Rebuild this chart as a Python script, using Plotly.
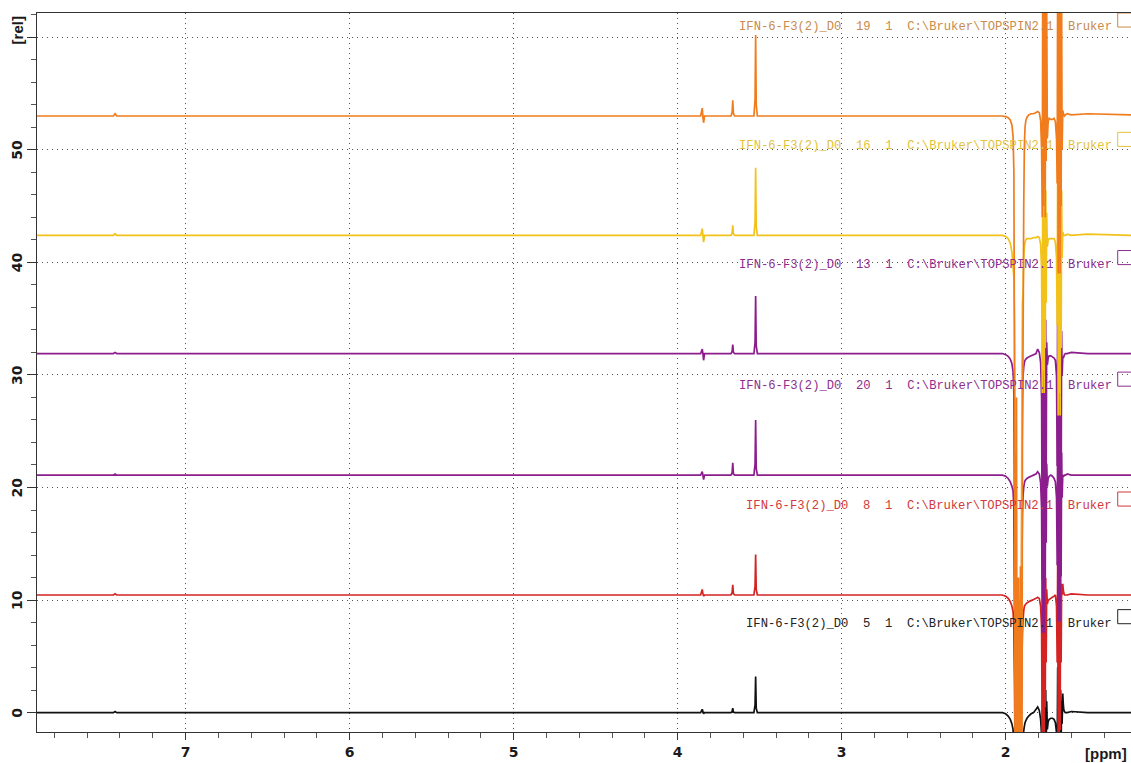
import plotly.graph_objects as go

# ---- chemical shift key points (ppm) ----
# baseline region with the three small resonances
L_PPM = [7.906, 7.44, 7.43, 7.42, 3.86, 3.850, 3.846, 3.842, 3.836,
         3.675, 3.668, 3.664, 3.660, 3.652, 3.535, 3.528, 3.5245, 3.521, 3.514]
# high-field region with the large solvent signals
R_PPM = [2.06, 2.02, 2.00, 1.985, 1.972, 1.962, 1.955, 1.950, 1.946,
         1.943, 1.940, 1.937, 1.934, 1.931, 1.928, 1.925, 1.922, 1.919, 1.916,
         1.913, 1.910, 1.907, 1.904, 1.901, 1.898,
         1.894, 1.890, 1.886, 1.882, 1.877, 1.870, 1.860, 1.845, 1.830, 1.815,
         1.805, 1.795, 1.787, 1.781,
         1.777, 1.774, 1.771, 1.768, 1.765, 1.762, 1.759, 1.756, 1.753, 1.750,
         1.746, 1.741, 1.735, 1.725, 1.715, 1.705, 1.697, 1.690,
         1.686, 1.683, 1.680, 1.677, 1.674, 1.671, 1.668, 1.665, 1.662, 1.659, 1.656,
         1.652, 1.649, 1.646, 1.642, 1.636, 1.625, 1.600, 1.500, 1.236]

# ---- experiment labels ----
EXPNO = ["5", "8", "20", "13", "16", "19"]
LABELS = ["IFN-6-F3(2)_D0  %s  1  C:\\Bruker\\TOPSPIN2.1  Bruker" % n for n in EXPNO]

# vertical stacking offsets of each spectrum [rel]
BASELINES = [0.0, 10.45, 21.1, 31.9, 42.4, 53.0]

# axis ticks
Y_TICKS = [0, 10, 20, 30, 40, 50, 60]
Y_TICK_LABELS = ["0", "10", "20", "30", "40", "50"]

# ---- intensities relative to each baseline ----
BLACK_L = [0, 0, 0.1, 0, 0, 0.3, 0.1, -0.1, 0, 0, 0.1, 0.4, 0.05, 0, 0, 0.7, 3.2, 0.4, 0]
BLACK_R = [0, 0, -0.1, -0.3, -0.6, -1.0, -1.5, -4, -8,
           -8, -8, -8, -8, -8, -8, -8, -8, -8, -8, -8, -8, -8, -8, -6, -4,
           -2.5, -1.6, -1.2, -0.9, -0.7, -0.5, -0.3, -0.1, 0, 0.3, 0.5, 0.2, -0.6, -2,
           -5, 5, -6, 4, -6, 3, -5, 2, -3, 1,
           -1.5, -0.8, -0.6, -0.5, -0.5, -0.6, -0.9, -1.8,
           -4, 4, -5, 3, -5, 3, -4, 2, -3, 1, -1,
           1.7, 0.8, 0.3, 0.1, 0, 0, 0.1, 0, 0]

RED_L = [0, 0, 0.1, 0, 0, 0.5, 0.1, -0.1, 0, 0, 0.2, 0.9, 0.1, 0, 0, 0.8, 3.6, 0.5, 0]
RED_R = [0, 0, -0.1, -0.3, -0.6, -1.0, -1.5, -3, -8,
         -15, -16, -15, -17, -16, -15, -17, -16, -15, -17, -16, -15, -14, -10, -6, -3.5,
         -2.2, -1.4, -1.0, -0.9, -0.8, -0.7, -0.6, -0.5, -0.4, -0.3, -0.2, -0.3, -1, -3,
         -14, 3, -12, 3, -14, 2, -10, 1.5, -6, 0.5,
         -0.8, -0.5, -0.4, -0.3, -0.2, -0.1, 0, -1,
         -6, 3, -14, 2, -13, 3, -12, 2, -6, 1, 0,
         1.0, 0.5, 0.2, 0, 0, 0, 0.1, 0, 0]

PURPLE20_L = [0, 0, 0.1, 0, 0, 0.3, 0, -0.4, 0, 0, 0.2, 1.1, 0.1, 0, 0, 1.0, 4.9, 0.6, 0]
PURPLE20_R = [0, 0, -0.1, -0.3, -0.6, -1.0, -1.4, -3, -12,
              -26, -28, -27, -29, -28, -27, -29, -28, -27, -29, -28, -27, -26, -18, -8, -3.5,
              -1.8, -1.1, -0.7, -0.5, -0.4, -0.3, -0.2, -0.1, 0, 0.1, 0.3, 0.1, -0.7, -3,
              -14, 4, -12, 4, -14, 3, -10, 2, -6, 1,
              -1, -0.3, -0.1, 0, -0.1, -0.3, -0.6, -2,
              -8, 5, -13, 5, -12, 4, -13, 3, -9, 2, -2,
              0, -0.1, -0.1, 0, 0, 0.1, 0, 0, 0]

PURPLE13_L = [0, 0, 0.1, 0, 0, 0.4, 0, -0.6, 0, 0, 0.2, 0.8, 0.1, 0, 0, 1.0, 5.1, 0.7, 0]
PURPLE13_R = [0, 0, -0.1, -0.25, -0.5, -0.9, -1.6, -3.5, -15,
              -38, -40, -39, -41, -40, -39, -41, -40, -39, -41, -40, -39, -38, -25, -10, -4,
              -2, -1.2, -0.8, -0.6, -0.5, -0.4, -0.3, -0.2, -0.1, 0, 0.4, 0.1, -0.8, -4,
              -20, 5, -18, 5, -20, 4, -16, 3, -10, 1,
              -1, -0.4, -0.2, -0.2, -0.3, -0.4, -0.6, -2,
              -10, 6, -22, 6, -20, 5, -22, 4, -14, 2, -2,
              -0.3, -0.4, -0.3, -0.1, 0, 0, 0.1, 0, 0]

YELLOW_L = [0, 0, 0.15, 0, 0, 0.6, 0, -0.6, 0, 0, 0.2, 0.9, 0.1, 0, 0, 1.2, 6.0, 0.8, 0]
YELLOW_R = [0, 0, -0.1, -0.3, -0.7, -1.5, -2.8, -3.8, -8,
            -20, -47, -46, -48, -46, -47, -48, -46, -47, -48, -46, -47, -45, -30, -12, -6,
            -5, -2, -1, -0.6, -0.4, -0.3, -0.3, -0.3, -0.2, -0.2, -0.1, -0.2, -0.8, -3,
            -14, 6, -12, 6, -14, 5, -10, 4, -6, 2,
            -1, -0.4, -0.3, -0.3, -0.3, -0.3, -0.6, -2,
            -8, 7.5, -16, 7.5, -14, 7, -16, 6, -10, 4, -2,
            0.3, 0.1, 0, 0, 0, 0.1, 0, 0.1, 0]

ORANGE_L = [0, 0, 0.2, 0, 0, 0.7, -0.1, -0.6, 0, 0, 0.3, 1.4, 0.2, 0, 0, 1.5, 7.2, 1.0, 0]
ORANGE_R = [0, 0, -0.05, -0.15, -0.35, -0.8, -1.8, -5, -25,
            -56, -30, -57, -25, -56, -44, -57, -41, -56, -43, -57, -40, -56, -45, -57, -30,
            -20, -8, -2.5, -1.0, -0.4, -0.1, 0.1, 0.2, 0.2, 0.3, 0.4, 0.3, -0.4, -3,
            -9, 14, -8, 14, -6, 14, -9, 12, -4, 10,
            -2, -0.5, -0.2, -0.3, -0.3, -0.2, -0.5, -2,
            -6, 14, -14, 14, -10, 14, -14, 12, -8, 10, -3,
            0.5, 0.3, 0.1, 0, 0.1, 0.2, 0.1, 0.2, 0.1]

SPECTRA = [(BLACK_L, BLACK_R), (RED_L, RED_R), (PURPLE20_L, PURPLE20_R),
           (PURPLE13_L, PURPLE13_R), (YELLOW_L, YELLOW_R), (ORANGE_L, ORANGE_R)]

LINE_COLORS = ["#111111", "#D42323", "#8C1D8C", "#8C1D8C", "#F2C21B", "#F07C1E"]
LABEL_COLORS = ["#222222", "#D03A3A", "#8E2E8E", "#8E2E8E", "#E3C23A", "#C98A4B"]

X_RANGE = [7.906, 1.236]
Y_RANGE = [-1.72, 62.15]
LABEL_RIGHT_PPM = 1.34
BOX_LEFT_PPM = 1.317
LABEL_RISE = 7.9

fig = go.Figure()

xs = L_PPM + R_PPM
for (left, right), base, color in zip(SPECTRA, BASELINES, LINE_COLORS):
    ys = [base + v for v in left + right]
    fig.add_trace(go.Scatter(
        x=xs, y=ys, mode="lines",
        line=dict(color=color, width=1.7, simplify=False),
        showlegend=False, hoverinfo="skip",
    ))

nbsp = "\u00a0"
for text, base, color in zip(LABELS, BASELINES, LABEL_COLORS):
    ly = base + LABEL_RISE
    fig.add_annotation(
        x=LABEL_RIGHT_PPM, y=ly, xref="x", yref="y",
        text=text.replace(" ", nbsp), showarrow=False,
        xanchor="right", yanchor="middle",
        font=dict(family="Liberation Mono, Courier New, monospace", size=12.2, color=color),
    )
    fig.add_shape(
        type="rect", xref="x", yref="y",
        x0=BOX_LEFT_PPM, x1=1.15, y0=ly, y1=ly + 1.25,
        line=dict(color=color, width=1), fillcolor="rgba(0,0,0,0)",
    )

num_font = dict(family="DejaVu Sans, Verdana, sans-serif", size=14, color="#1a1a1a", weight="bold")
unit_font = dict(family="Liberation Sans, Arial, sans-serif", size=15, color="#1a1a1a", weight="bold")

fig.update_xaxes(
    range=X_RANGE, tick0=0, dtick=1,
    ticks="outside", ticklen=7, tickwidth=1, tickcolor="#333333",
    tickfont=num_font,
    showline=True, linecolor="#333333", linewidth=1, mirror=True,
    showgrid=True, gridcolor="#555555", gridwidth=1, griddash="1px,4px",
    zeroline=False,
    minor=dict(tick0=0, dtick=0.2, ticks="outside", ticklen=5, tickcolor="#555555", showgrid=False),
)

fig.update_yaxes(
    range=Y_RANGE, tickmode="array", tickvals=Y_TICKS,
    showticklabels=False,
    ticks="outside", ticklen=9, tickwidth=1, tickcolor="#333333",
    showline=True, linecolor="#333333", linewidth=1, mirror=False,
    showgrid=True, gridcolor="#555555", gridwidth=1, griddash="1px,4px",
    zeroline=False,
    minor=dict(tick0=0, dtick=2, ticks="outside", ticklen=5, tickcolor="#555555", showgrid=False),
)

# rotated value labels along the intensity axis
for val, txt in zip(Y_TICKS, Y_TICK_LABELS):
    fig.add_annotation(
        text=txt, xref="paper", yref="y", x=0, y=val,
        xshift=-20, textangle=-90, showarrow=False,
        xanchor="center", yanchor="middle", font=num_font,
    )

fig.add_annotation(
    text="[rel]", xref="paper", yref="y", x=0, y=60.6,
    xshift=-20, textangle=-90, showarrow=False,
    xanchor="center", yanchor="middle", font=unit_font,
)
fig.add_annotation(
    text="[ppm]", xref="paper", yref="paper", x=1, y=0,
    yshift=-21, xshift=-2, showarrow=False,
    xanchor="right", yanchor="middle", font=unit_font,
)

fig.update_layout(
    width=1131, height=763,
    margin=dict(l=37, r=0, t=13, b=31),
    paper_bgcolor="white", plot_bgcolor="white",
)

fig.write_html("out.html")
